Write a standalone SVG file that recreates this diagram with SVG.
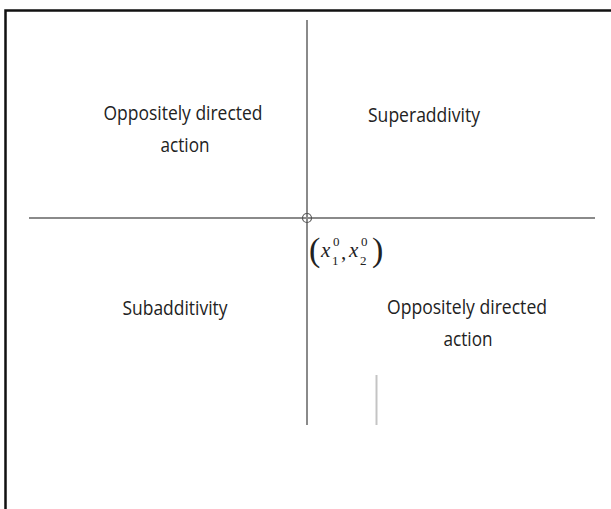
<svg xmlns="http://www.w3.org/2000/svg" width="611" height="509" viewBox="0 0 611 509">
<style>
.lbl{font-family:"Open Sans","Liberation Sans",sans-serif;font-size:20px;fill:#222;text-anchor:middle}
.ax{stroke:#8a8a8a;stroke-width:2;fill:none}
.m{font-family:"Liberation Serif",serif;font-style:italic;fill:#222}
.n{font-family:"Liberation Serif",serif;fill:#222}
</style>
<rect x="0" y="0" width="611" height="509" fill="#fff"/>
<path d="M5.5,509 V10.5 H611" stroke="#111" stroke-width="2.5" fill="none"/>
<g id="connectors">
<line class="ax" x1="307" y1="20" x2="307" y2="425"/>
<line class="ax" x1="29" y1="218" x2="595" y2="218"/>
<line x1="376.5" y1="375" x2="376.5" y2="425" stroke="#c4c4c4" stroke-width="2"/>
</g>
<g id="origin">
<circle cx="307" cy="218" r="4.5" fill="none" stroke="#555" stroke-width="1.2"/>
<text class="n" x="309" y="261" font-size="34">(</text>
<text class="m" x="321" y="257" font-size="21">x</text>
<text class="n" x="332" y="265" font-size="13">1</text>
<text class="n" x="333" y="246" font-size="13">0</text>
<text class="n" x="341" y="259" font-size="21">,</text>
<text class="m" x="349" y="257" font-size="21">x</text>
<text class="n" x="360" y="265" font-size="13">2</text>
<text class="n" x="361" y="246" font-size="13">0</text>
<text class="n" x="372" y="261" font-size="34">)</text>
</g>
<g id="q2"><text class="lbl" x="183" y="120" textLength="159" lengthAdjust="spacingAndGlyphs">Oppositely directed</text><text class="lbl" x="185" y="152" textLength="49" lengthAdjust="spacingAndGlyphs">action</text></g>
<g id="q1"><text class="lbl" x="424" y="122" textLength="112" lengthAdjust="spacingAndGlyphs">Superaddivity</text></g>
<g id="q3"><text class="lbl" x="175" y="315" textLength="105" lengthAdjust="spacingAndGlyphs">Subadditivity</text></g>
<g id="q4"><text class="lbl" x="467" y="314" textLength="160" lengthAdjust="spacingAndGlyphs">Oppositely directed</text><text class="lbl" x="468" y="346" textLength="49" lengthAdjust="spacingAndGlyphs">action</text></g>
</svg>
